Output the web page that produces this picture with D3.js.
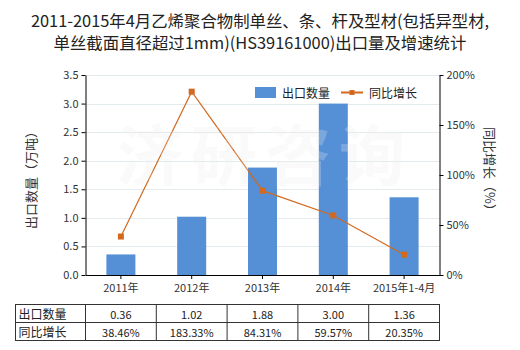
<!DOCTYPE html>
<html><head><meta charset="utf-8">
<script src="https://cdn.jsdelivr.net/npm/d3@7/dist/d3.min.js"></script>
<style>body{margin:0;background:#fff}svg{display:block}text{font-family:"Noto Sans CJK SC","Noto Sans",sans-serif}</style>
</head><body><svg id="c" width="520" height="350"></svg>
<script>
const categories = ["2011年","2012年","2013年","2014年","2015年1-4月"];
const exportQty = [0.36,1.02,1.88,3.00,1.36];
const growth = [38.46,183.33,84.31,59.57,20.35];
const qtyLabels = ["0.36","1.02","1.88","3.00","1.36"];
const growthLabels = ["38.46%","183.33%","84.31%","59.57%","20.35%"];
const leftTicks = [0,0.5,1,1.5,2,2.5,3,3.5];
const rightTicks = [0,50,100,150,200];

const svg = d3.select("#c");
const L = 85.5, R = 439.5, T = 75, B = 275;
const x = d3.scaleBand().domain(categories).range([L, R]);
const yL = d3.scaleLinear().domain([0,3.5]).range([B, T]);
const yR = d3.scaleLinear().domain([0,200]).range([B, T]);
const txt = "#333";

// title
svg.append("text").attr("x",260).attr("y",27).attr("text-anchor","middle").attr("font-size",16.4).attr("fill","#222")
  .text("2011-2015年4月乙烯聚合物制单丝、条、杆及型材(包括异型材,");
svg.append("text").attr("x",260).attr("y",49).attr("text-anchor","middle").attr("font-size",16.4).attr("fill","#222")
  .text("单丝截面直径超过1mm)(HS39161000)出口量及增速统计");

// grid
svg.append("g").selectAll("line").data(leftTicks.slice(1)).join("line")
  .attr("x1",L).attr("x2",R).attr("y1",d=>Math.round(yL(d))+0.5).attr("y2",d=>Math.round(yL(d))+0.5)
  .attr("stroke","#e4ebee").attr("stroke-width",1);

// bars
svg.append("g").selectAll("rect").data(exportQty).join("rect")
  .attr("x",(d,i)=>x(categories[i])+x.bandwidth()/2-14.5).attr("width",29)
  .attr("y",d=>yL(d)).attr("height",d=>B-yL(d)).attr("fill","#5590d6");

// line
const line = d3.line().x((d,i)=>x(categories[i])+x.bandwidth()/2).y(d=>yR(d));
svg.append("path").datum(growth).attr("d",line).attr("fill","none").attr("stroke","#d2691e").attr("stroke-width",1.2);
svg.append("g").selectAll("rect").data(growth).join("rect")
  .attr("x",(d,i)=>x(categories[i])+x.bandwidth()/2-3).attr("y",d=>yR(d)-3).attr("width",6).attr("height",6)
  .attr("fill","#d2691e");

// watermark
svg.append("text").attr("x",265).attr("y",180).attr("text-anchor","middle").attr("font-size",66).attr("font-weight","bold")
  .attr("letter-spacing",8).attr("fill","#eeeeee").attr("opacity",0.25).text("济研咨询");

// axes
const axL = d3.axisLeft(yL).tickValues(leftTicks).tickFormat(d3.format(".1f")).tickSize(4).tickSizeOuter(0);
const gL = svg.append("g").attr("transform",`translate(${L},0)`).call(axL);
const axR = d3.axisRight(yR).tickValues(rightTicks).tickFormat(d=>d+"%").tickSize(4).tickSizeOuter(0);
const gR = svg.append("g").attr("transform",`translate(${R},0)`).call(axR);
const axB = d3.axisBottom(x).tickSize(4).tickSizeOuter(0);
const gB = svg.append("g").attr("transform",`translate(0,${B})`).call(axB);
[gL,gR,gB].forEach(g=>{
  g.selectAll("path,line").attr("stroke","#000");
  g.selectAll("text").attr("font-size",11).attr("fill",txt).attr("font-family",'"Noto Sans CJK SC",sans-serif');
});
gB.selectAll("text").attr("dy","0.9em").attr("font-size",11);

// axis titles
svg.append("text").attr("transform","translate(30,177) rotate(-90)").attr("text-anchor","middle").attr("dominant-baseline","central")
  .attr("font-size",13).attr("fill",txt).text("出口数量（万吨）");
svg.append("text").attr("transform","translate(490,172) rotate(90)").attr("text-anchor","middle").attr("dominant-baseline","central")
  .attr("font-size",13).attr("fill",txt).text("同比增长（%）");

// legend
svg.append("rect").attr("x",255).attr("y",87).attr("width",21).attr("height",11).attr("fill","#5590d6");
svg.append("text").attr("x",282).attr("y",92.5).attr("dominant-baseline","central").attr("font-size",12).attr("fill","#222").text("出口数量");
svg.append("line").attr("x1",341).attr("x2",363).attr("y1",92.5).attr("y2",92.5).attr("stroke","#d2691e").attr("stroke-width",2);
svg.append("rect").attr("x",349.5).attr("y",90).attr("width",5).attr("height",5).attr("fill","#d2691e");
svg.append("text").attr("x",369).attr("y",92.5).attr("dominant-baseline","central").attr("font-size",12).attr("fill","#222").text("同比增长");

// table
const tT = 304.5, rowH = 18, tL = 15.5;
const tb = svg.append("g");
const rows = [["出口数量", qtyLabels],["同比增长", growthLabels]];
tb.append("rect").attr("x",tL).attr("y",tT).attr("width",R-tL).attr("height",rowH*2).attr("fill","none").attr("stroke","#333");
tb.append("line").attr("x1",tL).attr("x2",R).attr("y1",tT+rowH).attr("y2",tT+rowH).attr("stroke","#333");
tb.selectAll("line.v").data(categories).join("line").attr("class","v")
  .attr("x1",d=>x(d)).attr("x2",d=>x(d)).attr("y1",tT).attr("y2",tT+rowH*2).attr("stroke","#333");
rows.forEach((r,ri)=>{
  const cy = tT + rowH*ri + rowH/2;
  tb.append("text").attr("x",tL+3).attr("y",cy).attr("dominant-baseline","central").attr("font-size",12).attr("fill","#222").text(r[0]);
  tb.selectAll(null).data(r[1]).join("text").attr("x",(d,i)=>x(categories[i])+x.bandwidth()/2).attr("y",cy)
    .attr("text-anchor","middle").attr("dominant-baseline","central").attr("font-size",11).attr("fill","#222").text(d=>d);
});
</script></body></html>
